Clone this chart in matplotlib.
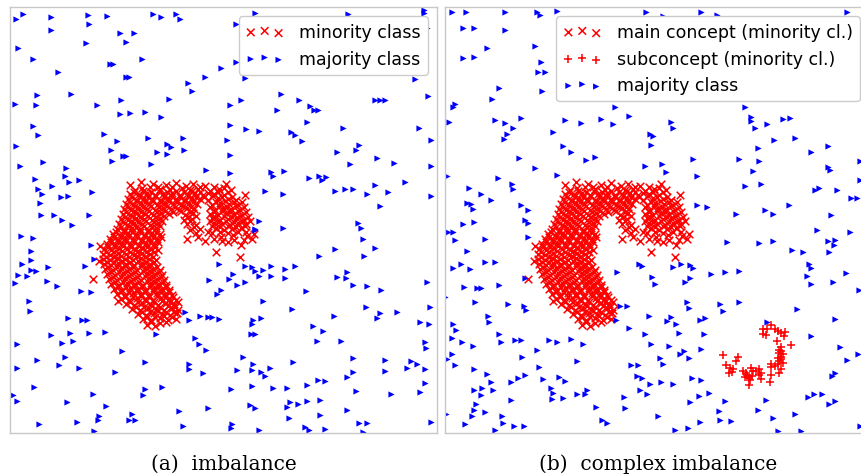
import numpy as np
import matplotlib
matplotlib.use("Agg")
import matplotlib.pyplot as plt

# Two synthetic 2-D datasets (feature units, y axis pointing down).
# Panel (a): a crescent-shaped minority class in a uniform majority class.
# Panel (b): the same crescent plus a small minority subconcept.

MINORITY = np.array([
    # upper arm of the crescent
    (153, 185), (166, 186), (176, 184), (193, 185), (205, 187), (226, 185),
    (150, 188), (158, 188), (172, 188), (186, 187), (200, 188), (214, 188), (224, 189),
    (135, 191), (142, 189), (160, 190), (170, 191), (182, 189), (190, 191), (198, 190), (210, 192),
    (219, 190), (231, 191),
    (134, 193), (143, 192), (151, 193), (159, 192), (167, 193), (176, 192), (184, 193), (192, 192),
    (200, 193), (208, 194), (218, 193), (228, 193),
    (130, 195), (138, 196), (147, 194), (155, 196), (163, 195), (172, 194), (180, 196), (187, 195),
    (195, 194), (203, 196), (214, 195), (224, 196),
    (132, 198), (140, 197), (148, 198), (156, 197), (164, 198), (172, 197), (180, 198), (188, 197),
    (196, 198), (204, 198), (213, 197), (222, 198), (232, 198),
    (128, 200), (136, 201), (144, 199), (152, 200), (160, 201), (168, 199), (176, 200), (184, 201),
    (192, 199), (200, 200), (208, 201), (218, 199), (228, 200), (236, 201),
    (130, 203), (137, 202), (145, 203), (153, 202), (161, 203), (169, 202), (177, 203), (185, 202),
    (193, 203), (216, 203), (225, 202), (234, 203), (242, 203),
    (126, 205), (133, 206), (141, 204), (149, 205), (157, 206), (165, 204), (173, 205), (181, 206),
    (189, 204), (197, 205), (212, 206), (220, 204), (229, 205), (238, 206),
    (128, 208), (135, 207), (143, 208), (151, 207), (159, 208), (167, 207), (175, 208), (183, 207),
    (191, 208), (210, 208), (219, 207), (227, 208), (236, 207), (244, 208),
    (124, 210), (131, 211), (139, 209), (147, 210), (155, 211), (163, 209), (171, 210), (179, 211),
    (187, 209), (194, 210), (215, 211), (223, 209), (231, 210), (240, 211),
    (126, 213), (134, 212), (141, 213), (149, 212), (157, 213), (165, 212), (173, 213), (181, 212),
    (190, 213), (214, 213), (222, 212), (230, 213), (238, 212), (246, 213),
    (123, 215), (130, 216), (137, 214), (145, 215), (153, 216), (161, 214), (169, 215), (185, 216),
    (193, 214), (210, 215), (218, 216), (226, 214), (234, 215), (242, 216),
    (125, 218), (132, 217), (140, 218), (148, 217), (156, 218), (164, 217), (188, 218), (196, 217),
    (215, 218), (224, 217), (232, 218), (240, 217), (248, 218),
    (121, 220), (128, 221), (136, 219), (144, 220), (152, 221), (160, 219), (184, 221), (192, 220),
    (212, 219), (220, 221), (228, 220), (236, 219), (244, 221),
    (123, 223), (131, 222), (138, 223), (146, 222), (154, 223), (162, 222), (190, 222), (210, 222),
    (218, 223), (226, 222), (234, 223), (242, 222),
    (119, 225), (127, 226), (134, 224), (142, 225), (150, 226), (158, 224), (187, 225), (196, 226),
    (214, 224), (222, 225), (230, 226), (238, 224), (246, 225),
    (121, 228), (129, 227), (136, 228), (144, 227), (152, 228), (160, 227), (194, 228), (212, 227),
    (220, 228), (228, 227), (236, 228), (245, 227),
    (117, 230), (124, 231), (132, 229), (140, 230), (148, 231), (156, 229), (190, 231), (200, 230),
    (216, 229), (224, 231), (232, 230), (241, 229),
    (116, 233), (124, 233), (132, 233), (140, 233), (148, 233), (156, 233), (196, 234), (212, 234),
    (220, 233), (228, 234), (238, 233), (246, 233),
    (254, 235), (252, 240), (247, 237), (233, 236), (221, 238), (228, 243), (241, 246), (216, 253),
    (240, 258), (208, 233), (214, 240), (222, 242), (234, 241), (244, 241),
    (130, 186), (141, 183), (245, 196), (250, 222), (205, 242), (198, 238), (187, 240),
    # left arm of the crescent
    (113, 235), (120, 236), (128, 234), (136, 235), (144, 236), (152, 234), (160, 235),
    (114, 238), (121, 238), (129, 237), (137, 238), (145, 237), (153, 238), (161, 238),
    (110, 240), (117, 241), (125, 239), (133, 240), (141, 241), (149, 239), (157, 240),
    (111, 243), (118, 243), (126, 242), (134, 243), (142, 242), (150, 243), (158, 243),
    (107, 245), (114, 246), (122, 244), (130, 245), (138, 246), (146, 244), (154, 245),
    (108, 248), (115, 248), (123, 247), (131, 248), (139, 247), (147, 248), (155, 248),
    (104, 250), (111, 251), (119, 249), (127, 250), (135, 251), (143, 249), (151, 250), (158, 251),
    (106, 253), (114, 253), (122, 252), (130, 253), (138, 252), (146, 253), (154, 253),
    (103, 255), (110, 256), (118, 254), (126, 255), (134, 256), (142, 254), (150, 255),
    (106, 258), (114, 258), (121, 257), (129, 258), (137, 257), (145, 258), (153, 258),
    (103, 260), (110, 261), (117, 259), (125, 260), (133, 261), (141, 259), (149, 260), (156, 261),
    (107, 263), (114, 263), (122, 262), (130, 263), (138, 262), (146, 263), (154, 263),
    (104, 265), (111, 266), (118, 264), (126, 265), (134, 266), (142, 264), (150, 265),
    (108, 268), (117, 268), (125, 267), (133, 268), (141, 267), (149, 268), (157, 268),
    (105, 270), (113, 271), (121, 269), (129, 270), (137, 271), (145, 269), (153, 270), (160, 271),
    (111, 273), (119, 273), (127, 272), (135, 273), (143, 272), (151, 273), (159, 273),
    (107, 275), (115, 276), (123, 274), (131, 275), (139, 276), (147, 274), (155, 275), (162, 276),
    (113, 278), (121, 278), (129, 277), (137, 278), (145, 277), (153, 278), (161, 278),
    (109, 280), (117, 281), (125, 279), (133, 280), (141, 281), (149, 279), (157, 280), (164, 281),
    (115, 283), (123, 283), (131, 282), (139, 283), (147, 282), (155, 283), (163, 283),
    (111, 285), (119, 286), (127, 284), (135, 285), (143, 286), (151, 284), (159, 285), (166, 286),
    (118, 288), (126, 288), (134, 287), (142, 288), (150, 287), (158, 288), (166, 288),
    (114, 290), (122, 291), (130, 289), (138, 290), (146, 291), (154, 289), (162, 290), (169, 291),
    (121, 293), (129, 293), (137, 292), (145, 293), (153, 292), (161, 293), (169, 293),
    (117, 295), (125, 296), (133, 294), (141, 295), (149, 296), (157, 294), (165, 295), (172, 296),
    (125, 298), (133, 298), (141, 297), (149, 298), (157, 297), (165, 298), (173, 298),
    (121, 300), (129, 301), (137, 299), (145, 300), (153, 301), (161, 299), (169, 300), (176, 301),
    (130, 303), (138, 303), (146, 302), (154, 303), (162, 302), (170, 303), (178, 303),
    (126, 305), (134, 306), (142, 304), (150, 305), (158, 306), (166, 304), (174, 305),
    (136, 308), (144, 308), (152, 307), (160, 308), (168, 307), (175, 308),
    (132, 310), (140, 311), (148, 309), (156, 310), (164, 311), (172, 309), (178, 311),
    (142, 313), (150, 313), (158, 312), (166, 313), (174, 313),
    (138, 315), (146, 316), (154, 314), (162, 315), (170, 316), (177, 314),
    (147, 318), (155, 318), (164, 317), (172, 318),
    (143, 320), (151, 321), (160, 319), (168, 321), (176, 320),
    (151, 323), (160, 324), (166, 323),
    (147, 326), (155, 327), (100, 247), (99, 262), (118, 302),
    (93, 280),
])

MAJORITY_A = np.array([
    (16, 20), (23, 15), (51, 18), (88, 16), (89, 25), (107, 17), (153, 15), (161, 18), (176, 15), (180, 20),
    (51, 31), (120, 34), (134, 34), (126, 43), (86, 44), (18, 49), (33, 60), (142, 60), (113, 65), (110, 65),
    (221, 69), (58, 73), (129, 78), (126, 78), (205, 78), (188, 84), (192, 92), (37, 96), (71, 95), (169, 100),
    (15, 105), (36, 106), (97, 106), (121, 101), (120, 115), (130, 114), (145, 113), (161, 118), (33, 127),
    (38, 136), (104, 135), (117, 142), (148, 139), (167, 145), (171, 148), (183, 139), (16, 147), (111, 151),
    (157, 153), (167, 155), (184, 151), (126, 157), (123, 157), (112, 162), (43, 163), (151, 165), (20, 167),
    (66, 169), (206, 171), (35, 180), (65, 177), (79, 181), (69, 183), (38, 190), (52, 187), (42, 195),
    (92, 193), (61, 198), (68, 197), (40, 204), (41, 216), (54, 216), (89, 216), (62, 221),
    (255, 14), (348, 15), (424, 11), (424, 14), (236, 25), (427, 29), (236, 63), (245, 79), (415, 80),
    (281, 95), (299, 101), (230, 106), (241, 101), (277, 111), (310, 107), (314, 111), (318, 111),
    (375, 101), (380, 101), (385, 101), (428, 97), (307, 123), (230, 126), (246, 130), (259, 132),
    (291, 133), (295, 136), (302, 142), (343, 129), (419, 129), (227, 141), (431, 141), (359, 146),
    (356, 151), (337, 153), (230, 156), (377, 159), (394, 164), (350, 165), (431, 167), (230, 174),
    (271, 173), (273, 177), (284, 172), (309, 179), (319, 177), (322, 181), (326, 178), (405, 183),
    (375, 186), (265, 192), (283, 195), (335, 192), (345, 190), (353, 190), (367, 195), (388, 193),
    (431, 197), (380, 207),
    (72, 226), (21, 237), (33, 239), (91, 246), (31, 252), (31, 261), (22, 265), (94, 260), (85, 267),
    (48, 268), (36, 272), (31, 271), (27, 277), (18, 276), (15, 284), (47, 282), (57, 287), (81, 292),
    (91, 293), (29, 302), (30, 312), (68, 319), (82, 321), (87, 321), (51, 336), (70, 334), (89, 334),
    (105, 333), (62, 344), (73, 342), (17, 345), (122, 352), (65, 358), (37, 361), (59, 366), (79, 369),
    (17, 369), (115, 373), (145, 363), (156, 335), (34, 388), (13, 396), (17, 402), (67, 403), (93, 395),
    (106, 407), (145, 390), (143, 396), (162, 388), (39, 425), (77, 423), (99, 417), (98, 421), (132, 415),
    (129, 421), (135, 421), (94, 432), (179, 412), (183, 427), (208, 409), (195, 339), (199, 345),
    (206, 351), (189, 365), (189, 370), (203, 374), (185, 313), (189, 321), (200, 317), (208, 318),
    (212, 318), (219, 320), (209, 281), (219, 265), (217, 295), (221, 291), (255, 230),
    (259, 222), (255, 231), (283, 229), (358, 224), (361, 229), (363, 240), (335, 250), (375, 249),
    (319, 257), (364, 257), (245, 267), (252, 268), (255, 272), (263, 271), (271, 267), (285, 270),
    (295, 267), (233, 275), (229, 280), (259, 277), (271, 277), (285, 279), (245, 283), (237, 286),
    (337, 278), (347, 273), (346, 279), (353, 286), (367, 287), (381, 291), (427, 283), (306, 292),
    (263, 302), (292, 310), (366, 308), (380, 314), (377, 319), (397, 313), (430, 308), (334, 317),
    (261, 319), (253, 321), (252, 325), (313, 327), (323, 332), (420, 323), (429, 325), (251, 335),
    (255, 335), (317, 342), (341, 342), (425, 343), (426, 349), (243, 358), (253, 365), (293, 363),
    (353, 359), (385, 361), (411, 362), (417, 365), (407, 369), (425, 370), (237, 371), (252, 371),
    (261, 373), (265, 377), (270, 369), (353, 373), (347, 378), (385, 372), (318, 381), (325, 382),
    (231, 390), (252, 387), (273, 389), (287, 389), (307, 386), (356, 392), (391, 395), (420, 393),
    (425, 384), (250, 406), (255, 409), (290, 403), (287, 408), (298, 405), (307, 402), (320, 401),
    (347, 411), (289, 419), (320, 416), (232, 425), (231, 429), (259, 431), (305, 428), (309, 431),
    (325, 430), (359, 424), (367, 424), (363, 433), (431, 423),
])

SUBCONCEPT = np.array([
    (328, 330), (332, 330), (336, 326), (340, 330), (343, 332), (346, 334), (349, 337), (350, 333),
    (328, 335), (331, 336), (342, 342), (356, 346), (346, 348), (344, 351), (346, 352), (344, 354),
    (348, 355), (346, 358), (343, 359), (346, 360), (344, 362), (348, 364), (343, 365), (340, 367),
    (336, 365), (336, 368), (346, 370), (344, 374), (288, 356), (303, 358), (301, 362), (291, 366),
    (295, 369), (298, 370), (294, 374), (297, 373), (308, 372), (311, 374), (310, 378), (312, 376),
    (314, 379), (316, 369), (318, 372), (317, 377), (315, 381), (321, 372), (324, 370), (326, 374),
    (324, 376), (326, 380), (314, 386), (336, 376), (335, 383),
])

MAJORITY_B = np.array([
    (17, 13), (31, 13), (70, 13), (102, 13), (105, 16), (122, 12), (211, 13), (28, 29), (39, 29), (70, 31),
    (52, 49), (100, 47), (28, 59), (39, 58), (106, 63), (103, 73), (110, 73), (64, 89), (57, 100), (107, 92),
    (20, 105), (18, 108), (14, 123), (60, 121), (70, 124), (86, 119), (78, 129), (72, 135), (69, 140),
    (130, 121), (146, 124), (166, 120), (178, 125), (194, 117), (180, 108), (118, 133), (215, 135),
    (216, 146), (128, 147), (136, 153), (84, 159), (151, 161), (160, 158), (100, 169), (12, 177),
    (63, 179), (77, 185), (78, 190), (122, 176), (210, 167), (34, 189), (46, 195), (56, 201), (32, 204),
    (36, 205), (38, 210), (86, 206), (93, 211),
    (266, 13), (282, 16), (412, 13), (228, 17), (310, 108), (316, 118), (316, 122), (332, 125), (348, 120),
    (355, 119), (320, 129), (236, 123), (238, 129), (218, 137), (339, 141), (360, 139), (323, 149),
    (376, 153), (393, 147), (258, 160), (304, 160), (324, 162), (227, 165), (231, 173), (262, 177),
    (318, 172), (310, 187), (326, 185), (393, 168), (395, 171), (425, 162), (380, 191), (384, 189),
    (402, 191), (416, 199), (422, 199), (425, 181), (262, 206), (272, 208), (301, 215), (330, 211),
    (338, 215), (354, 206), (396, 216),
    (28, 225), (39, 223), (90, 221), (93, 224), (13, 233), (18, 233), (20, 241), (50, 240), (93, 238),
    (32, 252), (50, 263), (60, 263), (26, 265), (35, 270), (18, 269), (90, 279), (29, 288), (42, 289),
    (46, 289), (64, 286), (10, 298), (40, 303), (73, 305), (89, 307), (91, 311), (53, 317), (54, 323),
    (18, 325), (21, 331), (17, 339), (27, 343), (38, 347), (64, 335), (66, 343), (80, 341), (86, 341),
    (114, 341), (122, 343), (136, 340), (148, 345), (102, 351), (17, 355), (12, 360), (20, 366),
    (87, 358), (142, 362), (39, 370), (52, 375), (104, 368), (56, 383), (76, 383), (83, 379), (90, 376),
    (108, 380), (124, 378), (130, 382), (39, 391), (47, 389), (46, 396), (58, 391), (116, 389),
    (118, 394), (117, 400), (128, 399), (142, 395), (150, 395), (152, 391), (76, 401), (41, 405),
    (39, 411), (37, 417), (50, 413), (67, 417), (68, 424), (79, 427), (89, 427), (30, 425), (60, 431),
    (11, 415), (161, 408), (167, 421), (172, 424), (189, 398), (190, 409), (182, 273), (204, 265),
    (207, 267), (185, 307), (192, 307), (181, 321), (194, 329), (210, 335), (214, 317), (216, 345),
    (196, 366), (203, 366), (202, 377), (207, 379), (205, 391), (212, 395), (215, 385), (217, 278),
    (382, 231), (415, 233), (292, 243), (324, 244), (338, 242), (357, 251), (368, 253), (393, 242),
    (400, 241), (399, 246), (394, 253), (238, 268), (246, 265), (255, 266), (258, 269), (276, 275),
    (290, 273), (304, 272), (374, 265), (376, 269), (411, 274), (255, 279), (250, 283), (220, 285),
    (372, 277), (376, 285), (398, 283), (424, 291), (252, 303), (254, 309), (285, 305), (288, 312),
    (304, 303), (362, 310), (236, 318), (232, 322), (241, 325), (265, 321), (270, 319), (332, 323),
    (400, 320), (244, 334), (269, 335), (376, 337), (234, 347), (266, 350), (245, 355), (249, 352),
    (254, 359), (225, 359), (228, 365), (405, 348), (412, 361), (423, 355), (397, 377), (400, 374),
    (226, 383), (238, 385), (257, 379), (266, 381), (274, 394), (264, 397), (255, 403), (290, 402),
    (331, 401), (373, 398), (379, 395), (387, 395), (394, 405), (400, 402), (284, 412), (323, 411),
    (223, 417), (265, 423), (285, 421), (296, 422), (338, 419), (360, 415), (240, 431), (253, 429),
    (343, 432), (366, 432), (425, 427),
])

CAPTIONS = ["(a)  imbalance", "(b)  complex imbalance"]

RED, BLUE, FRAME = "#ff0000", "#0000ff", "#c8c8c8"
plt.rcParams.update({"font.family": ["DejaVu Sans"], "legend.fontsize": 12.5})

W, H = 861, 477
fig = plt.figure(figsize=(W / 100, H / 100), dpi=100)
ax_a = fig.add_axes([10 / W, 1 - 434 / H, 427 / W, 426 / H])
ax_b = fig.add_axes([445 / W, 1 - 434 / H, 427 / W, 426 / H])

kw_x = dict(marker="x", s=30, c=RED, linewidths=1.1)
kw_maj = dict(marker=">", s=20, c=BLUE, linewidths=0)

ax_a.scatter(MINORITY[:, 0], MINORITY[:, 1], label="minority class", **kw_x)
ax_a.scatter(MAJORITY_A[:, 0], MAJORITY_A[:, 1], label="majority class", **kw_maj)

ax_b.scatter(MINORITY[:, 0], MINORITY[:, 1], label="main concept (minority cl.)", **kw_x)
ax_b.scatter(SUBCONCEPT[:, 0], SUBCONCEPT[:, 1], marker="+", s=32, c=RED, linewidths=1.1,
             label="subconcept (minority cl.)")
ax_b.scatter(MAJORITY_B[:, 0], MAJORITY_B[:, 1], label="majority class", **kw_maj)

# the right panel's frame runs a few pixels past the canvas edge
anchors = [(1.0, 1.0), (1.0 - 3 / 427, 1.0)]
for ax, cap, anchor in zip([ax_a, ax_b], CAPTIONS, anchors):
    ax.set_xlim(10, 437)
    ax.set_ylim(434, 8)
    ax.set_xticks([])
    ax.set_yticks([])
    for sp in ax.spines.values():
        sp.set_color(FRAME)
        sp.set_linewidth(1.0)
    ax.legend(loc="upper right", bbox_to_anchor=anchor, scatterpoints=3, framealpha=1.0,
              edgecolor="#cccccc", borderaxespad=0.52, handlelength=2.2, handletextpad=0.9)
    pos = ax.get_position()
    fig.text(pos.x0 + 0.5 * 427 / W, 1 - 464 / H, cap, ha="center", va="center",
             family="DejaVu Serif", fontsize=14.5)

fig.savefig("out.png", dpi=100)
